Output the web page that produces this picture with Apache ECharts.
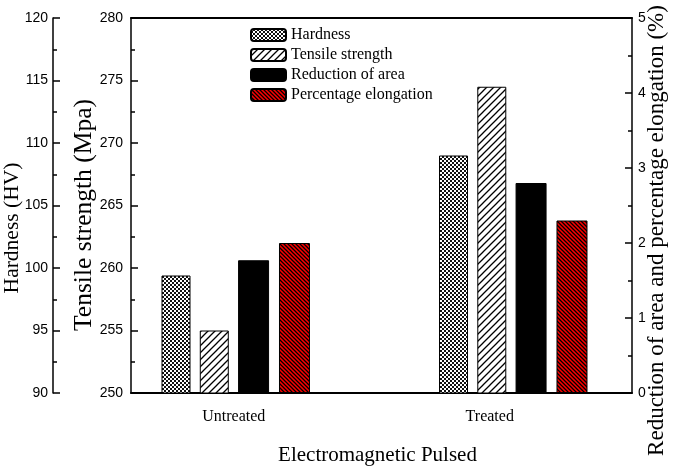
<!DOCTYPE html>
<html><head><meta charset="utf-8">
<script src="https://cdn.jsdelivr.net/npm/echarts@6/dist/echarts.min.js"></script>
<style>html,body{margin:0;padding:0;background:#fff}#c{width:685px;height:467px}</style>
</head><body><div id="c"></div>
<script>
// ---- data ----
const categories = ['Untreated', 'Treated'];
const seriesNames = ['Hardness', 'Tensile strength', 'Reduction of area', 'Percentage elongation'];
const hardness = [99.4, 109.0];
const tensileStrength = [255.0, 274.5];
const reductionOfArea = [1.77, 2.80];
const percentageElongation = [2.00, 2.30];
const hardnessRange = [90, 120, 5];
const tensileRange = [250, 280, 5];
const percentRange = [0, 5, 1];

// ---- patterns ----
function makePattern(size, draw) {
  const c = document.createElement('canvas');
  c.width = size; c.height = size;
  const ctx = c.getContext('2d');
  draw(ctx, size);
  return { image: c, repeat: 'repeat' };
}
const checkPattern = makePattern(4, (ctx) => {
  ctx.fillStyle = '#111'; ctx.fillRect(0, 0, 4, 4);
  ctx.fillStyle = '#fff'; ctx.fillRect(0, 0, 2, 2); ctx.fillRect(2, 2, 2, 2);
});
const slashPattern = makePattern(7, (ctx, s) => {
  ctx.fillStyle = '#fff'; ctx.fillRect(0, 0, s, s);
  ctx.strokeStyle = '#000'; ctx.lineWidth = 1.3;
  ctx.beginPath();
  ctx.moveTo(0, s); ctx.lineTo(s, 0);
  ctx.moveTo(-1, 1); ctx.lineTo(1, -1);
  ctx.moveTo(s - 1, s + 1); ctx.lineTo(s + 1, s - 1);
  ctx.stroke();
});
const redPattern = makePattern(4, (ctx, s) => {
  ctx.fillStyle = '#ff0000'; ctx.fillRect(0, 0, s, s);
  ctx.strokeStyle = '#000'; ctx.lineWidth = 1.3;
  ctx.beginPath();
  ctx.moveTo(0, 0); ctx.lineTo(s, s);
  ctx.moveTo(-1, s - 1); ctx.lineTo(1, s + 1);
  ctx.moveTo(s - 1, -1); ctx.lineTo(s + 1, 1);
  ctx.stroke();
});

const serif = 'Liberation Serif';
const sans = 'Liberation Sans';

function visibleY(range, pos, offset, name, nameGap, nameSize, namePad, labelMargin) {
  return {
    type: 'value', gridIndex: 0, position: pos, offset: offset,
    min: range[0], max: range[1], interval: range[2],
    name: name, nameLocation: 'middle', nameGap: nameGap, nameMoveOverlap: false,
    nameTextStyle: { fontFamily: serif, fontSize: nameSize, color: '#000', padding: namePad },
    axisLine: { show: true, onZero: false, lineStyle: { color: '#000', width: 1.5 } },
    axisTick: { show: true, inside: true, length: 7, lineStyle: { color: '#000', width: 1.5 } },
    minorTick: { show: true, splitNumber: 2, length: 4, lineStyle: { color: '#000', width: 1.5 } },
    axisLabel: { fontFamily: sans, fontSize: 14, color: '#000', margin: labelMargin },
    splitLine: { show: false }
  };
}
function hiddenY(range) {
  return { type: 'value', gridIndex: 1, min: range[0], max: range[1], show: false, splitLine: { show: false } };
}

const option = {
  animation: false,
  backgroundColor: '#fff',
  grid: [
    { left: 131, right: 53, top: 18, bottom: 74, outerBoundsMode: 'none', containLabel: false },
    { left: 97, width: 555, top: 18, bottom: 74, outerBoundsMode: 'none', containLabel: false }
  ],
  legend: {
    orient: 'vertical', left: 250, top: 27, padding: 0,
    itemWidth: 35, itemHeight: 12, itemGap: 4,
    textStyle: { fontFamily: serif, fontSize: 16, color: '#000' },
    data: seriesNames
  },
  xAxis: [
    { type: 'value', gridIndex: 0, position: 'bottom', min: 0, max: 1,
      name: 'Electromagnetic Pulsed', nameLocation: 'middle', nameGap: 52, nameMoveOverlap: false,
      nameTextStyle: { fontFamily: serif, fontSize: 21, color: '#000', padding: [0, 8, 0, 0] },
      axisLine: { show: true, onZero: false, lineStyle: { color: '#000', width: 2 } },
      axisTick: { show: false }, axisLabel: { show: false }, splitLine: { show: false } },
    { type: 'value', gridIndex: 0, position: 'top', min: 0, max: 1,
      axisLine: { show: true, onZero: false, lineStyle: { color: '#000', width: 2 } },
      axisTick: { show: false }, axisLabel: { show: false }, splitLine: { show: false } },
    { type: 'category', gridIndex: 1, data: [
        { value: categories[0], textStyle: { padding: [0, 4, 0, 0] } },
        { value: categories[1], textStyle: { padding: [0, 47, 0, 0] } }
      ],
      axisLine: { show: false }, axisTick: { show: false },
      axisLabel: { fontFamily: serif, fontSize: 16, color: '#000', margin: 16 } }
  ],
  yAxis: [
    visibleY(hardnessRange, 'left', 78, 'Hardness (HV)', 30, 21.5, [0, 45, 0, 0], 5),
    visibleY(tensileRange, 'left', 0, 'Tensile strength (Mpa)', 34, 25.5, [0, 19, 0, 0], 8),
    visibleY(percentRange, 'right', 0, 'Reduction of area and percentage elongation (%)', 13, 23, [0, 50, 0, 0], 6),
    hiddenY(hardnessRange),
    hiddenY(tensileRange),
    hiddenY(percentRange)
  ],
  series: [
    { name: seriesNames[0], type: 'bar', xAxisIndex: 2, yAxisIndex: 3, data: hardness,
      barWidth: 29, barGap: '32%',
      itemStyle: { color: checkPattern, borderColor: '#000', borderWidth: 1 } },
    { name: seriesNames[1], type: 'bar', xAxisIndex: 2, yAxisIndex: 4, data: tensileStrength,
      barWidth: 29, barGap: '32%',
      itemStyle: { color: slashPattern, borderColor: '#000', borderWidth: 1 } },
    { name: seriesNames[2], type: 'bar', xAxisIndex: 2, yAxisIndex: 5, data: reductionOfArea,
      barWidth: 31, barGap: '32%',
      itemStyle: { color: '#000', borderColor: '#000', borderWidth: 1 } },
    { name: seriesNames[3], type: 'bar', xAxisIndex: 2, yAxisIndex: 5, data: percentageElongation,
      barWidth: 31, barGap: '32%',
      itemStyle: { color: redPattern, borderColor: '#000', borderWidth: 1 } }
  ]
};
const chart = echarts.init(document.getElementById('c'), null, { renderer: 'canvas' });
chart.setOption(option);
</script></body></html>
